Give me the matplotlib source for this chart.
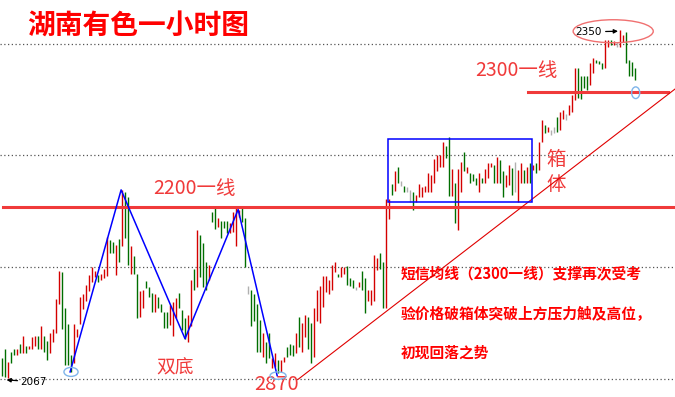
import matplotlib
matplotlib.use('Agg')
import matplotlib.pyplot as plt
from matplotlib.patches import Ellipse, Rectangle

plt.rcParams['font.family'] = ['Noto Sans CJK SC', 'DejaVu Sans']

# hourly bars (price units)
bar_high = [
    2083, 2091, 2080, 2088, 2091, 2091, 2095, 2101, 2093, 2093,
    2100, 2101, 2101, 2109, 2101, 2097, 2104, 2107, 2131, 2154,
    2153, 2124, 2111, 2086, 2111, 2107, 2133, 2135, 2143, 2151,
    2157, 2154, 2151, 2152, 2156, 2182, 2179, 2178, 2175, 2180,
    2220, 2218, 2214, 2174, 2166, 2152, 2138, 2139, 2146, 2141,
    2136, 2135, 2133, 2127, 2121, 2121, 2126, 2129, 2132, 2136,
    2122, 2116, 2118, 2147, 2156, 2187, 2183, 2177, 2161, 2159,
    2202, 2205, 2197, 2195, 2195, 2195, 2193, 2202, 2205, 2204,
    2205, 2197, 2142, 2139, 2135, 2127, 2114, 2104, 2096, 2104,
    2083, 2087, 2082, 2082, 2084, 2092, 2095, 2094, 2104, 2117,
    2112, 2118, 2117, 2112, 2124, 2139, 2142, 2150, 2150, 2147,
    2159, 2161, 2152, 2157, 2157, 2158, 2148, 2147, 2141, 2145,
    2154, 2148, 2139, 2139, 2167, 2165, 2169, 2161, 2213, 2213,
    2225, 2235, 2239, 2227, 2223, 2222, 2220, 2218, 2216, 2225,
    2222, 2223, 2234, 2232, 2245, 2248, 2248, 2259, 2256, 2263,
    2237, 2226, 2237, 2243, 2251, 2239, 2234, 2233, 2230, 2234,
    2230, 2237, 2242, 2242, 2240, 2247, 2244, 2235, 2232, 2240,
    2238, 2243, 2236, 2242, 2236, 2239, 2242, 2240, 2242, 2259,
    2277, 2273, 2271, 2269, 2271, 2279, 2283, 2285, 2282, 2289,
    2297, 2319, 2319, 2313, 2313, 2313, 2323, 2327, 2326, 2325,
    2323, 2342, 2342, 2342, 2341, 2340, 2350, 2346, 2348, 2326,
    2324, 2319]
bar_low = [
    2069, 2068, 2067, 2079, 2086, 2086, 2087, 2087, 2087, 2091,
    2091, 2093, 2091, 2091, 2088, 2082, 2087, 2096, 2104, 2127,
    2107, 2078, 2078, 2072, 2079, 2100, 2111, 2123, 2130, 2138,
    2145, 2149, 2145, 2147, 2148, 2150, 2169, 2169, 2151, 2161,
    2174, 2181, 2159, 2152, 2152, 2116, 2117, 2124, 2140, 2133,
    2121, 2121, 2124, 2121, 2108, 2108, 2110, 2101, 2116, 2124,
    2106, 2099, 2096, 2109, 2139, 2141, 2149, 2141, 2139, 2147,
    2194, 2188, 2190, 2181, 2189, 2185, 2185, 2186, 2174, 2198,
    2194, 2157, 2135, 2109, 2113, 2088, 2088, 2084, 2079, 2083,
    2075, 2076, 2071, 2072, 2080, 2084, 2086, 2085, 2087, 2092,
    2088, 2100, 2091, 2079, 2084, 2113, 2112, 2125, 2137, 2135,
    2139, 2153, 2149, 2149, 2152, 2143, 2142, 2140, 2139, 2141,
    2139, 2120, 2130, 2126, 2130, 2155, 2156, 2124, 2124, 2196,
    2216, 2219, 2226, 2223, 2218, 2218, 2210, 2204, 2210, 2214,
    2214, 2218, 2218, 2218, 2226, 2235, 2239, 2239, 2246, 2215,
    2215, 2193, 2187, 2218, 2235, 2234, 2226, 2227, 2224, 2218,
    2226, 2226, 2230, 2239, 2226, 2226, 2226, 2214, 2222, 2224,
    2216, 2218, 2210, 2226, 2226, 2226, 2226, 2236, 2234, 2236,
    2259, 2266, 2267, 2265, 2266, 2267, 2269, 2278, 2277, 2281,
    2283, 2293, 2295, 2294, 2303, 2301, 2305, 2315, 2323, 2322,
    2318, 2319, 2336, 2338, 2338, 2336, 2336, 2340, 2323, 2313,
    2313, 2309]
# r = up, g = down, n = flat
bar_dir = ("ggrggrgrgr" "rrgrggrrrr" "ggggrrrrrr" "rrgrrrggrg" "rggrggrrgg"
           "grggggrrrg" "ggrrgrgggr" "ggrgggrrrr" "ggnggggrgg" "rrgrrgggrg"
           "rrggrrrrrr" "rrgrrgggnr" "ggrrrrggrr" "grgngnngrr" "rrrrrrrrgg"
           "rgrrgrgggr" "grrrgrggrr" "gnrrgrgrgr" "rgrnngrrnr" "rrggggrrgg"
           "grrgrnrrgg" "gg")

grid_levels = [2066, 2157, 2248, 2339]
level_2200 = 2206
level_2300 = 2300
low_mark = 2067
high_mark = 2350

# double bottom zigzag (bar index, price)
zigzag_idx = [22.8, 39.8, 61.1, 78.8, 91.8]
zigzag_price = [2072, 2220, 2099, 2204, 2069]
# rising support line
trend_idx = [98.8, 224.4]
trend_price = [2066, 2302]
# consolidation box
box_idx = [128.9, 176.9]
box_price = [2210, 2261]

colors = {'r': '#d40000', 'g': '#006e00', 'n': '#b0b0b0'}

W, H = 675, 397
fig = plt.figure(figsize=(W / 100, H / 100), dpi=100)
ax = fig.add_axes([0, 0, 1, 1])
ax.set_xlim(-0.567, 224.4)
ax.set_ylim(2051.6, 2374.4)
ax.axis('off')


def at(x, y):
    # pixel position -> axes fraction
    return x / W, 1 - y / H


for g in grid_levels:
    ax.axhline(g, color='#555555', linestyle=(0, (1, 2)), linewidth=0.9, zorder=1)

idx = list(range(len(bar_high)))
ax.vlines(idx, bar_low, bar_high, colors=[colors[d] for d in bar_dir],
          linewidth=1.0, zorder=3)

red = '#f03a3a'
ax.plot([0.4, 224.4], [level_2200, level_2200], color=red, linewidth=2.2, zorder=4)
ax.plot([175.4, 222.1], [level_2300, level_2300], color=red, linewidth=2.2, zorder=4)

ax.plot(zigzag_idx, zigzag_price, color='#0000ff', linewidth=1.1, zorder=5)
ax.plot(trend_idx, trend_price, color='#e00000', linewidth=0.8, zorder=5)
ax.add_patch(Rectangle((box_idx[0], box_price[0]), box_idx[1] - box_idx[0],
                       box_price[1] - box_price[0], fill=False,
                       edgecolor='#0000ff', linewidth=1.1, zorder=5))

# circles
ax.add_patch(Ellipse((203.8, 2349), 26.7, 18.7, fill=False,
                     edgecolor='#f07070', linewidth=1.0, zorder=6))
for cx, cy, w, h in [(23.1, 2072, 4.7, 7.3), (92.1, 2069, 5.3, 6.0),
                     (211.3, 2299, 2.7, 9.5)]:
    ax.add_patch(Ellipse((cx, cy), w, h, fill=False, edgecolor='#7fb5ea',
                         linewidth=1.0, zorder=6))

# price marks
ax.annotate(str(low_mark), xy=(1.6, low_mark - 1.5), xytext=(6.2, 2064),
            fontsize=7.5, family='DejaVu Sans', va='center', ha='left',
            arrowprops=dict(arrowstyle='-|>', color='black', lw=0.9,
                            mutation_scale=6, shrinkA=0, shrinkB=0))
ax.annotate(str(high_mark), xy=(205.4, high_mark - 1), xytext=(199.9, high_mark - 1.5),
            fontsize=7.5, family='DejaVu Sans', va='center', ha='right',
            arrowprops=dict(arrowstyle='-|>', color='black', lw=0.9,
                            mutation_scale=6, shrinkA=1, shrinkB=0))

tr = ax.transAxes
ax.text(*at(27, 27), '湖南有色一小时图', transform=tr, color='#ff0000',
        fontsize=20, fontweight='bold', va='center', ha='left')
ax.text(*at(153, 189), '2200一线', transform=tr, color=red, fontsize=14,
        va='center', ha='left')
ax.text(*at(475, 71), '2300一线', transform=tr, color=red, fontsize=14,
        va='center', ha='left')
ax.text(*at(556, 159), '箱', transform=tr, color=red, fontsize=14,
        va='center', ha='center')
ax.text(*at(556, 185), '体', transform=tr, color=red, fontsize=14,
        va='center', ha='center')
ax.text(*at(175, 368), '双底', transform=tr, color=red, fontsize=13.5,
        va='center', ha='center')
ax.text(*at(277, 385), '2870', transform=tr, color=red, fontsize=14.5,
        va='center', ha='center')

note = ['短信均线（2300一线）支撑再次受考',
        '验价格破箱体突破上方压力触及高位，',
        '初现回落之势']
for i, line in enumerate(note):
    ax.text(*at(401, 273 + 40 * i), line, transform=tr, color='#ff0000',
            fontsize=10.6, fontweight='bold', va='center', ha='left')

fig.savefig('out.png', dpi=100)
